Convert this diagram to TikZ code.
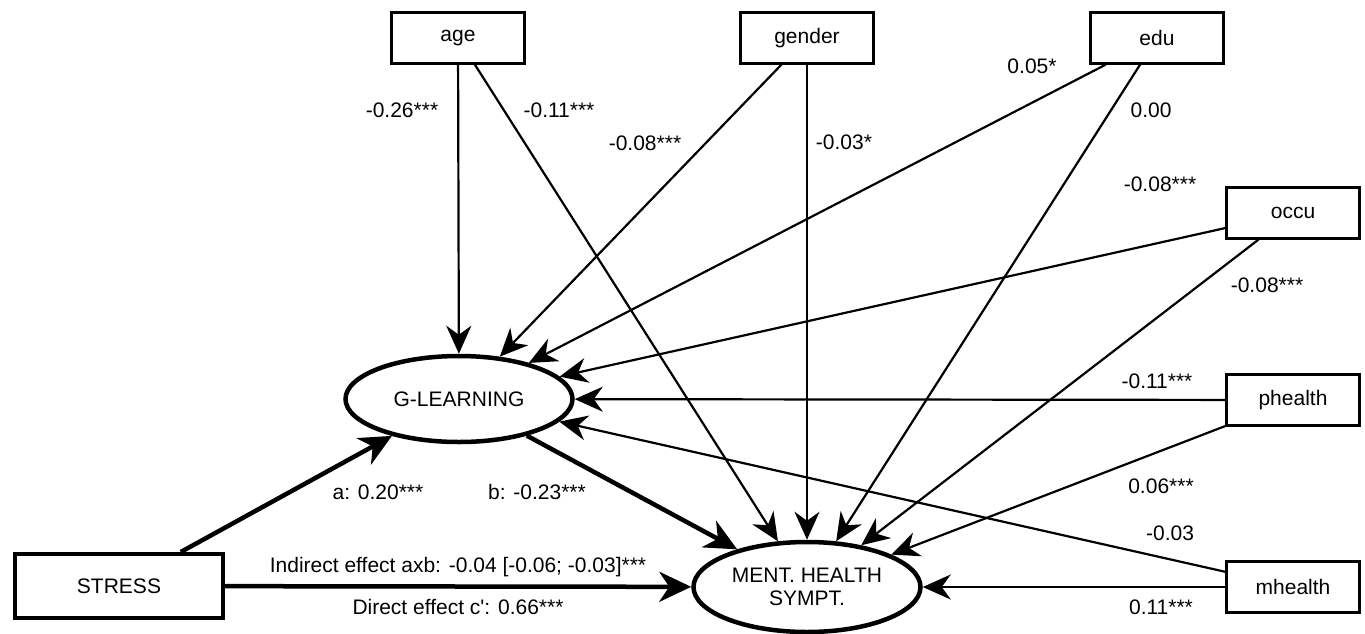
\documentclass[tikz,border=0pt]{standalone}
\usepackage{fontspec}
\setmainfont{Liberation Sans}
\usetikzlibrary{arrows.meta,shapes.geometric}
\begin{document}
\begin{tikzpicture}[x=1pt,y=-1pt,
  font=\fontsize{21}{23}\selectfont,
  obs/.style={draw,line width=2.2pt,minimum width=133pt,minimum height=51pt,inner sep=0pt},
  lat/.style={draw,ellipse,line width=4.5pt,minimum width=227pt,inner sep=0pt,align=center},
  pth/.style={line width=2.2pt,-{Stealth[length=28pt,width=25pt,inset=9pt]}},
  mainpth/.style={line width=4.5pt,-{Stealth[length=32pt,width=30pt,inset=10pt]}},
  lbl/.style={inner sep=0pt}]
\useasboundingbox (0,0) rectangle (1365,633);
% observed covariates
\node[obs] (age) at (458,38) {age};
\node[obs] (gender) at (807,38) {gender};
\node[obs] (edu) at (1157,38) {edu};
\node[obs] (occu) at (1293,213) {occu};
\node[obs] (phealth) at (1293,400) {phealth};
\node[obs] (mhealth) at (1293,587) {mhealth};
\node[draw,line width=4pt,minimum width=208pt,minimum height=64pt,inner sep=0pt] (stress) at (119,586) {STRESS};
% latent
\node[lat,minimum height=86pt] (gl) at (459,399) {G-LEARNING};
\node[lat,minimum height=90pt] (ment) at (807,587) {MENT. HEALTH\\SYMPT.};
% paths to G-LEARNING
\draw[pth] (age) -- (gl);
\draw[pth] (gender) -- (gl);
\draw[pth] (edu) -- (gl);
\draw[pth] (occu) -- (gl);
\draw[pth] (phealth) -- (gl);
\draw[pth] (mhealth) -- (gl);
% paths to MENT
\draw[pth] (age) -- (ment);
\draw[pth] (gender) -- (ment);
\draw[pth] (edu) -- (ment);
\draw[pth] (occu) -- (ment);
\draw[pth] (phealth) -- (ment);
\draw[pth] (mhealth) -- (ment);
% main paths
\draw[mainpth] (stress) -- (gl);
\draw[mainpth] (gl) -- (ment);
\draw[mainpth] (stress) -- (ment);
% labels
\node[lbl] (l1) at (402,110) {-0.26***};
\node[lbl] (l2) at (559,110) {-0.11***};
\node[lbl] (l3) at (645,143) {-0.08***};
\node[lbl] (l4) at (844,142) {-0.03*};
\node[lbl] (l5) at (1032,66) {0.05*};
\node[lbl] (l6) at (1151,110) {0.00};
\node[lbl] (l7) at (1160,184) {-0.08***};
\node[lbl] (l8) at (1267,285) {-0.08***};
\node[lbl] (l9) at (1157,381) {-0.11***};
\node[lbl] (l10) at (1161,486) {0.06***};
\node[lbl] (l11) at (1170,533) {-0.03};
\node[lbl] (l12) at (1161,607) {0.11***};
\node[lbl] (la) at (378,492) {a: 0.20***};
\node[lbl] (lb) at (537,492) {b: -0.23***};
\node[lbl] (lind) at (458,567) {Indirect effect axb: -0.04 [-0.06; -0.03]***};
\node[lbl] (ldir) at (458,607) {Direct effect c\textquotesingle: 0.66***};
\end{tikzpicture}
\end{document}
